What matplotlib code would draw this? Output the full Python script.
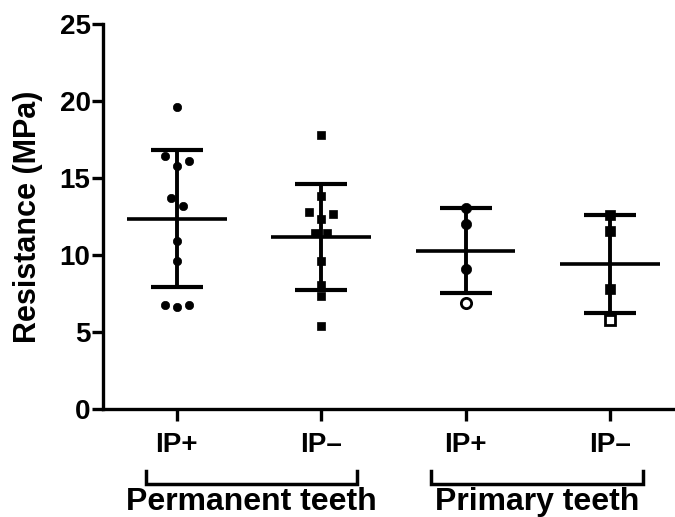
import numpy as np
import matplotlib
matplotlib.use("Agg")
from matplotlib import pyplot as plt
from matplotlib.lines import Line2D

plt.rcParams['font.family'] = ['Liberation Sans', 'DejaVu Sans']
plt.rcParams['font.weight'] = 'bold'

# values (MPa)
perm_ip_plus = [19.6, 16.4, 16.1, 15.8, 13.7, 13.2, 10.9, 9.6, 6.75, 6.65, 6.75]
perm_ip_minus = [17.8, 13.8, 12.8, 12.67, 12.33, 11.42, 11.42, 9.58, 8.07, 7.31, 5.36]
prim_ip_plus = [13.02, 12.03, 9.08, 6.88]
prim_ip_minus = [12.61, 11.53, 7.79, 5.75]

means = [12.35, 11.16, 10.29, 9.43]
sds = [4.46, 3.45, 2.78, 3.18]

tick_labels = ['IP+', 'IP\u2013', 'IP+', 'IP\u2013']
group_labels = ['Permanent teeth', 'Primary teeth']

groups = [perm_ip_plus, perm_ip_minus, prim_ip_plus, prim_ip_minus]
markers = ['o', 's', 'o', 's']
msizes = [6.0, 6.0, 7.4, 6.6]
hollow = {2: 3, 3: 3}  # index of the open marker in a group


def spread(vals, thresh=0.55, step=0.082):
    # crude scatter spreading: close values get pushed sideways
    order = np.argsort(vals)[::-1]
    offs = np.zeros(len(vals))
    clusters = [[order[0]]]
    for i in order[1:]:
        if vals[clusters[-1][-1]] - vals[i] < thresh:
            clusters[-1].append(i)
        else:
            clusters.append([i])
    for c in clusters:
        k = len(c)
        o = list(np.arange(k) - (k - 1) / 2)
        if k % 2 == 1 and k > 1:
            mid = o.pop(k // 2)
            o.append(mid)
        for idx, v in zip(c, o):
            offs[idx] = v * step
    return offs


fig = plt.figure(figsize=(6.75, 5.17), dpi=100)
ax = fig.add_axes([0.1526, 0.2089, 0.8474, 0.7447])

xs = np.arange(1, 5)
for g, vals in enumerate(groups):
    vals = np.array(vals)
    offs = spread(vals)
    for j, (o, v) in enumerate(zip(offs, vals)):
        face = 'white' if hollow.get(g) == j else 'black'
        ax.plot(xs[g] + o, v, marker=markers[g], ms=msizes[g], mfc=face,
                mec='black', mew=2.0 if face == 'white' else 0.5, ls='none',
                zorder=3)

ax.errorbar(xs, means, yerr=sds, fmt='none', ecolor='black', elinewidth=2.8,
            capsize=18.4, capthick=3.0, zorder=2)
ax.hlines(means, xs - 0.345, xs + 0.345, colors='black', lw=2.6, zorder=2)

ax.set_xlim(0.49, 4.45)
ax.set_ylim(0, 25)
ax.set_yticks([0, 5, 10, 15, 20, 25])
ax.set_xticks(xs)
ax.set_xticklabels(tick_labels)

for s in ['top', 'right']:
    ax.spines[s].set_visible(False)
for s in ['left', 'bottom']:
    ax.spines[s].set_linewidth(2.4)

ax.tick_params(axis='y', length=8, width=2.4, pad=1, labelsize=20)
ax.tick_params(axis='x', length=8.6, width=2.4, pad=8, labelsize=20)

ax.set_ylabel('Resistance (MPa)', fontsize=22, fontweight='bold')
ax.yaxis.set_label_coords(-0.105, 0.5)

# group brackets under the tick labels
trans = ax.get_xaxis_transform()
spans = [(0.788, 2.25), (2.76, 4.23)]
for (a, b), lab in zip(spans, group_labels):
    ax.add_line(Line2D([a, a, b, b], [-0.162, -0.195, -0.195, -0.162],
                       transform=trans, color='black', lw=2.5,
                       clip_on=False, solid_joinstyle='miter'))
    ax.text((a + b) / 2, -0.262, lab, transform=trans, ha='center',
            va='baseline', fontsize=23, fontweight='bold')

fig.savefig('out.png', dpi=100)
